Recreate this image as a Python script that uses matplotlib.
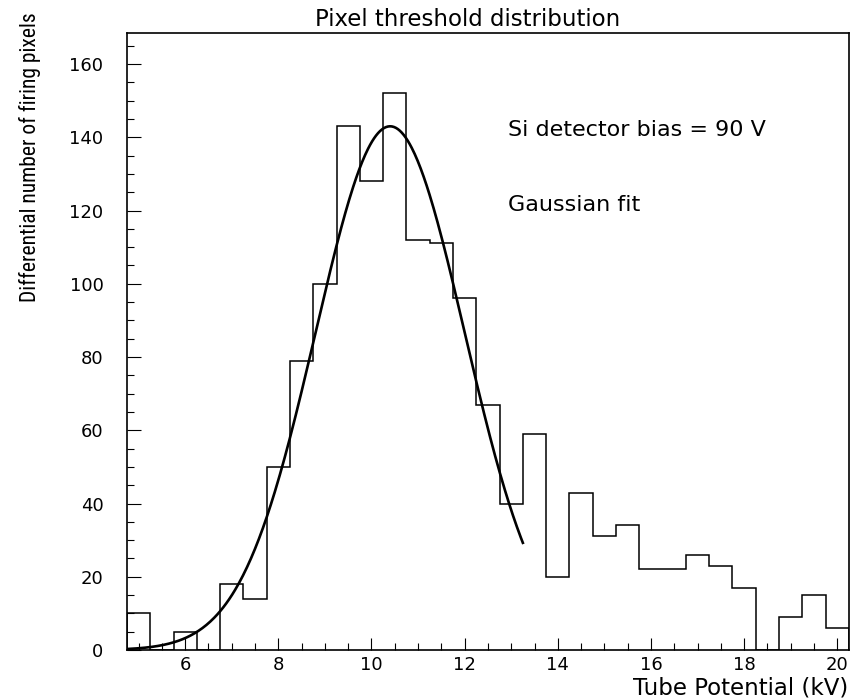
import numpy as np
import matplotlib
matplotlib.use("Agg")
import matplotlib.pyplot as plt
from matplotlib.ticker import MultipleLocator
from matplotlib import font_manager

# Histogram data (bin width 0.5 kV)
bin_edges = [4.75 + 0.5 * i for i in range(32)]
counts = [10, 0, 5, 0, 18, 14, 50, 79, 100, 143, 128, 152, 112, 111, 96, 67,
          40, 59, 20, 43, 31, 34, 22, 22, 26, 23, 17, 0, 9, 15, 6]

# Gaussian fit parameters
fit_amp = 143.0
fit_mean = 10.4
fit_sigma = 1.6
fit_range = (4.75, 13.25)

title = "Pixel threshold distribution"
xlabel = "Tube Potential (kV)"
ylabel = "Differential number of firing pixels"
note1 = "Si detector bias = 90 V"
note2 = "Gaussian fit"

# choose a condensed font for the y label if one is available
names = {f.name for f in font_manager.fontManager.ttflist}
cond = None
for cand in ["Liberation Sans Narrow", "DejaVu Sans Condensed", "Roboto Condensed",
             "Open Sans Condensed"]:
    if cand in names:
        cond = cand
        break

fig = plt.figure(figsize=(8.54, 7.0), dpi=100)
ax = fig.add_axes([0.1487, 0.0714, 0.8453, 0.8816])

ax.stairs(counts, bin_edges, color="black", linewidth=1.1)

xf = np.linspace(fit_range[0], fit_range[1], 400)
yf = fit_amp * np.exp(-0.5 * ((xf - fit_mean) / fit_sigma) ** 2)
ax.plot(xf, yf, color="black", linewidth=1.9)

ax.set_xlim(4.75, 20.25)
ax.set_ylim(0, 168.5)

ax.xaxis.set_major_locator(MultipleLocator(2))
ax.xaxis.set_minor_locator(MultipleLocator(0.5))
ax.yaxis.set_major_locator(MultipleLocator(20))
ax.yaxis.set_minor_locator(MultipleLocator(5))
ax.tick_params(which="both", direction="in", top=False, right=False,
               labelsize=13, width=0.8)
ax.tick_params(axis="y", which="major", length=10, pad=17)
ax.tick_params(axis="y", which="minor", length=5)
ax.tick_params(axis="x", which="major", length=9, pad=4)
ax.tick_params(axis="x", which="minor", length=5)
for s in ax.spines.values():
    s.set_linewidth(1.2)

fig.text(468 / 854, 1 - 19 / 700, title, ha="center", va="center", fontsize=16.5)
fig.text(0.993, 1 - 688 / 700, xlabel, ha="right", va="center", fontsize=16.5)
if cond is not None:
    fig.text(30 / 854, 1 - 157 / 700, ylabel, rotation=90, ha="center",
             va="center", fontsize=15.5, family=[cond, "DejaVu Sans"])
else:
    fig.text(30 / 854, 1 - 157 / 700, ylabel, rotation=90, ha="center",
             va="center", fontsize=12, family=["Roboto", "DejaVu Sans"])

ax.text(0.528, 0.843, note1, transform=ax.transAxes, fontsize=16,
        ha="left", va="center")
ax.text(0.528, 0.721, note2, transform=ax.transAxes, fontsize=16,
        ha="left", va="center")

fig.savefig("out.png", dpi=100)
